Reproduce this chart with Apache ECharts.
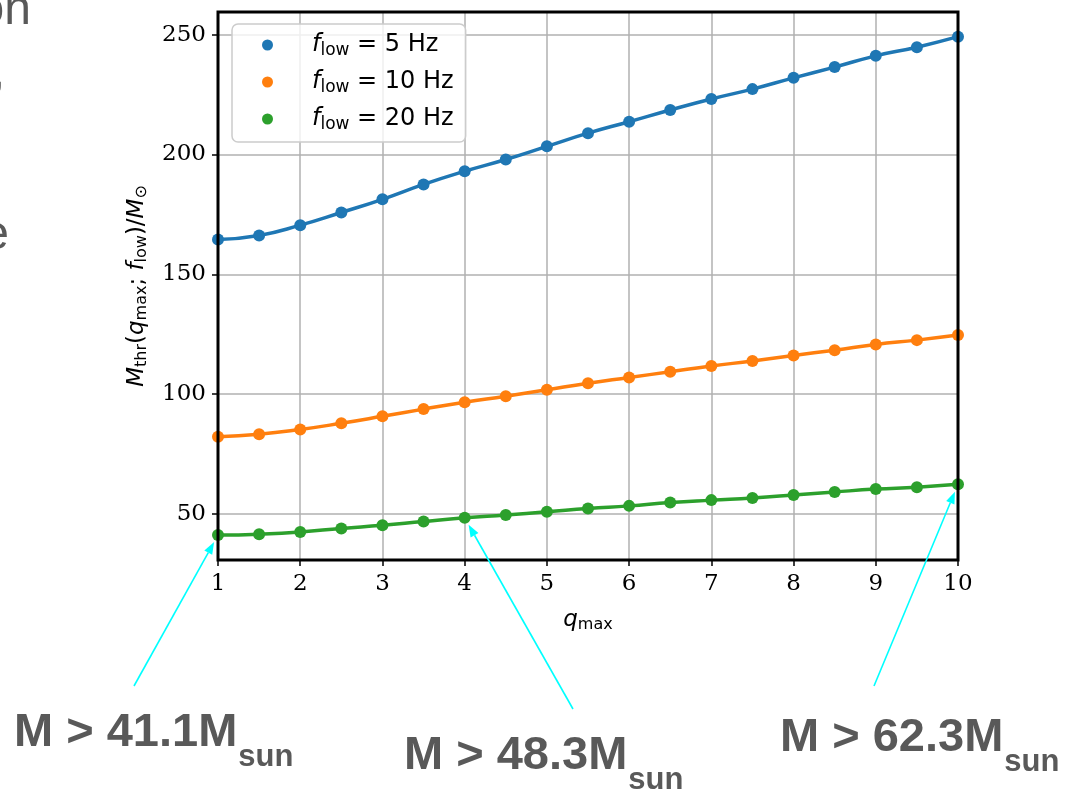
<!DOCTYPE html>
<html><head><meta charset="utf-8">
<script src="https://cdn.jsdelivr.net/npm/echarts@6/dist/echarts.min.js"></script>
<style>html,body{margin:0;padding:0;background:#fff;overflow:hidden}#chart{width:1066px;height:793px}</style>
</head><body><div id="chart"></div>
<script>
// ---- data ----
const qValues = [1, 1.5, 2, 2.5, 3, 3.5, 4, 4.5, 5, 5.5, 6, 6.5, 7, 7.5, 8, 8.5, 9, 9.5, 10];
const mass5Hz = [164.5, 166.2, 170.5, 175.8, 181.3, 187.5, 193.0, 197.9, 203.4, 208.9, 213.7, 218.6, 223.2, 227.3, 232.0, 236.5, 241.2, 244.8, 249.2];
const mass10Hz = [82.2, 83.2, 85.2, 87.8, 90.7, 93.7, 96.6, 99.1, 101.8, 104.5, 106.9, 109.3, 111.7, 113.8, 116.1, 118.3, 120.7, 122.5, 124.6];
const mass20Hz = [41.1, 41.5, 42.4, 43.9, 45.2, 46.8, 48.3, 49.5, 50.8, 52.2, 53.3, 54.7, 55.7, 56.6, 57.8, 59.1, 60.3, 61.1, 62.3];
const seriesLabels = ['5 Hz', '10 Hz', '20 Hz'];
const seriesColors = ['#1f77b4', '#ff7f0e', '#2ca02c'];
const yTickValues = [50, 100, 150, 200, 250];
const xTickValues = [1, 2, 3, 4, 5, 6, 7, 8, 9, 10];
const annotQ = [1, 4, 10];
const annotM = [41.1, 48.3, 62.3];
const annotText = ['M > 41.1M', 'M > 48.3M', 'M > 62.3M'];
const annotSub = 'sun';

const chart = echarts.init(document.getElementById('chart'), null, {renderer: 'canvas'});
const allSeries = [mass5Hz, mass10Hz, mass20Hz];
const richAxis = {
  i: {fontFamily: 'DejaVu Sans', fontStyle: 'italic', fontSize: 23, color: '#000'},
  s: {fontFamily: 'DejaVu Sans', fontSize: 16, color: '#000', padding: [10, 0, 0, 0]},
  n: {fontFamily: 'DejaVu Sans', fontSize: 23, color: '#000'}
};
const richLegend = {
  i: {fontFamily: 'DejaVu Sans', fontStyle: 'italic', fontSize: 24, color: '#000'},
  s: {fontFamily: 'DejaVu Sans', fontSize: 17, color: '#000', padding: [11, 0, 0, 0]},
  n: {fontFamily: 'DejaVu Sans', fontSize: 24, color: '#000'}
};

const option = {
  animation: false,
  backgroundColor: '#fff',
  grid: {left: 218, right: 108, top: 12, bottom: 233, show: true, borderColor: '#000', borderWidth: 3, backgroundColor: 'transparent', z: 5},
  legend: {
    orient: 'vertical', left: 232, top: 24,
    padding: [9, 12, 9, 30], itemGap: 11, itemWidth: 11, itemHeight: 11, icon: 'circle',
    backgroundColor: 'rgba(255,255,255,0.8)', borderColor: '#cccccc', borderWidth: 1.5, borderRadius: 6,
    data: seriesLabels,
    formatter: n => '{i|f}{s|low}{n| = ' + n + '}',
    textStyle: {fontFamily: 'DejaVu Sans', fontSize: 24, color: '#000', padding: [0, 0, 0, 34], rich: richLegend},
    z: 10
  },
  xAxis: {
    type: 'value', min: 1, max: 10, interval: 1,
    name: '{i|q}{s|max}', nameLocation: 'middle', nameGap: 47,
    nameTextStyle: {rich: richAxis},
    axisLine: {show: false},
    axisTick: {show: true, length: 6, inside: false, lineStyle: {color: '#000', width: 1.5}},
    axisLabel: {fontFamily: 'DejaVu Serif', fontSize: 23, color: '#000', margin: 13},
    splitLine: {show: true, lineStyle: {color: '#b0b0b0', width: 1.5}}
  },
  yAxis: {
    type: 'value', min: 30.7, max: 259.5,
    name: '{i|M}{s|thr}{n|(}{i|q}{s|max}{n|; }{i|f}{s|low}{n|)/}{i|M}{s|⊙}',
    nameLocation: 'middle', nameRotate: 90, nameGap: 68,
    nameTextStyle: {rich: richAxis},
    axisLine: {show: false},
    axisTick: {show: true, length: 6, lineStyle: {color: '#000', width: 1.5}, customValues: yTickValues},
    axisLabel: {fontFamily: 'DejaVu Serif', fontSize: 23, color: '#000', margin: 12, customValues: yTickValues},
    splitLine: {show: true, lineStyle: {color: '#b0b0b0', width: 1.5}}
  },
  series: allSeries.map((vals, k) => ({
    type: 'line', name: seriesLabels[k],
    data: qValues.map((q, i) => [q, vals[i]]),
    smooth: 0.5,
    symbol: 'circle', symbolSize: 12,
    lineStyle: {width: 3.5, color: seriesColors[k]},
    itemStyle: {color: seriesColors[k]},
    clip: true, z: 3
  }))
};
chart.setOption(option);

// ---- annotations (slide overlay) ----
const measure = (() => {
  const c = document.createElement('canvas').getContext('2d');
  return (txt, font) => { c.font = font; return c.measureText(txt).width; };
})();
const bigFont = 'bold 47px "Liberation Sans"';
const subFont = 'bold 31px "Liberation Sans"';
const textColor = '#595959';
const textPos = [[14, 733, 757], [404, 756, 780], [780, 738, 762]];
const tails = [[134, 686], [573, 709], [874, 686]];
const cyan = '#00ffff';

const gfx = [];
// cut-off slide text on the left edge
gfx.push({type: 'text', x: 31, y: 11, style: {text: 'on', font: '48px "Liberation Sans"', fill: textColor, align: 'right', verticalAlign: 'middle'}});
gfx.push({type: 'text', x: 5, y: 98, style: {text: ',', font: '48px "Liberation Sans"', fill: textColor, align: 'right', verticalAlign: 'bottom'}});
gfx.push({type: 'text', x: 9, y: 236, style: {text: 'e', font: '48px "Liberation Sans"', fill: textColor, align: 'right', verticalAlign: 'middle'}});

for (let k = 0; k < 3; k++) {
  const [bx, by, sy] = textPos[k];
  const w = measure(annotText[k], bigFont);
  gfx.push({type: 'text', x: bx, y: by, style: {text: annotText[k], font: bigFont, fill: textColor, align: 'left', verticalAlign: 'middle'}});
  gfx.push({type: 'text', x: bx + w + 1, y: sy, style: {text: annotSub, font: subFont, fill: textColor, align: 'left', verticalAlign: 'middle'}});
  const p = chart.convertToPixel({gridIndex: 0}, [annotQ[k], annotM[k]]);
  const t = tails[k];
  let dx = t[0] - p[0], dy = t[1] - p[1];
  const L = Math.hypot(dx, dy); dx /= L; dy /= L;
  const tip = [p[0] + dx * 8, p[1] + dy * 8];
  const hl = 12, hw = 4.5;
  const base = [tip[0] + dx * hl, tip[1] + dy * hl];
  gfx.push({type: 'line', shape: {x1: t[0], y1: t[1], x2: base[0], y2: base[1]}, style: {stroke: cyan, lineWidth: 1.6}, z: 20});
  gfx.push({type: 'polygon', shape: {points: [tip, [base[0] - dy * hw, base[1] + dx * hw], [base[0] + dy * hw, base[1] - dx * hw]]}, style: {fill: cyan}, z: 20});
}
chart.setOption({graphic: {elements: gfx}});
</script>
</body></html>
